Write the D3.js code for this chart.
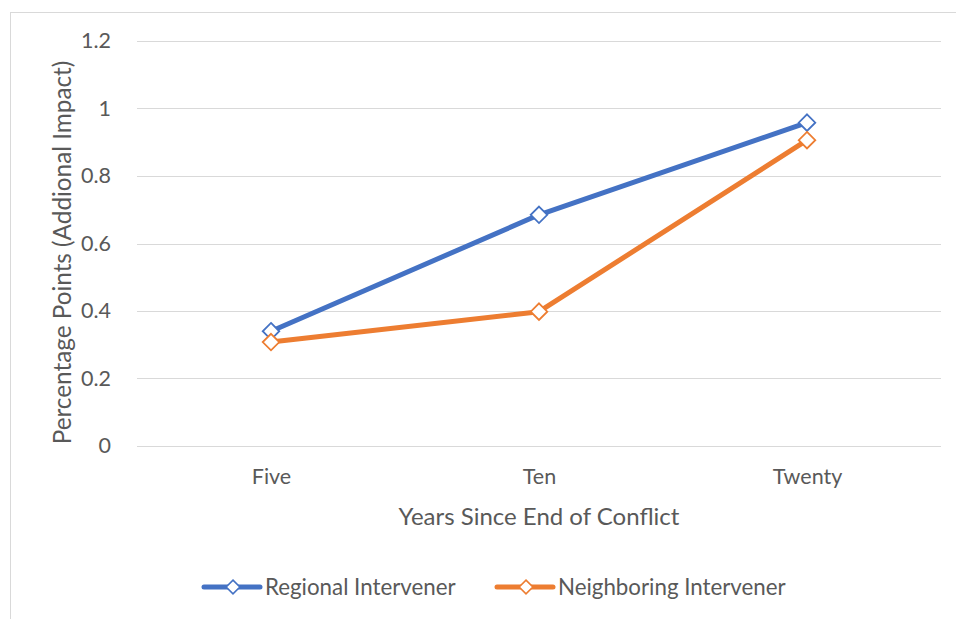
<!DOCTYPE html>
<html>
<head>
<meta charset="utf-8">
<script src="https://cdn.jsdelivr.net/npm/d3@7"></script>
<style>
  body { margin: 0; background: #fff; }
  text { font-family: Lato, "Open Sans", sans-serif; fill: #595959; }
</style>
</head>
<body>
<svg id="chart" width="956" height="619"></svg>
<script>
const categories = ["Five", "Ten", "Twenty"];
const regional = [0.34, 0.685, 0.958];
const neighboring = [0.308, 0.398, 0.906];
const yTicks = [0, 0.2, 0.4, 0.6, 0.8, 1, 1.2];
const seriesNames = ["Regional Intervener", "Neighboring Intervener"];
const seriesColors = ["#4472C4", "#ED7D31"];

const svg = d3.select("#chart");
const margin = { left: 137, right: 15, top: 41, bottom: 173 };
const width = +svg.attr("width");
const height = +svg.attr("height");

// chart frame (only top and left edges are visible in the crop)
svg.append("rect")
  .attr("x", 10.5).attr("y", 12.5)
  .attr("width", 960).attr("height", 620)
  .attr("fill", "none").attr("stroke", "#d9d9d9");

const x = d3.scalePoint(categories, [margin.left, width - margin.right]).padding(0.5);
const y = d3.scaleLinear([0, 1.2], [height - margin.bottom, margin.top]);

// gridlines
svg.append("g")
  .selectAll("line")
  .data(yTicks)
  .join("line")
  .attr("x1", margin.left).attr("x2", width - margin.right)
  .attr("y1", (d) => Math.round(y(d)) + 0.5).attr("y2", (d) => Math.round(y(d)) + 0.5)
  .attr("stroke", "#d9d9d9").attr("stroke-width", 1);

const yAxis = svg.append("g")
  .attr("transform", `translate(${margin.left - 23},0)`)
  .call(d3.axisLeft(y).tickValues(yTicks).tickSize(0).tickFormat((d) => String(d)));
yAxis.select(".domain").remove();
yAxis.selectAll("text").attr("font-size", 21.5).attr("fill", "#595959").attr("font-family", null);

const xAxis = svg.append("g")
  .attr("transform", `translate(0,${height - margin.bottom + 20})`)
  .call(d3.axisBottom(x).tickSize(0));
xAxis.select(".domain").remove();
xAxis.selectAll("text").attr("font-size", 21.5).attr("fill", "#595959").attr("font-family", null);

svg.append("text")
  .attr("transform", `translate(71,${(y(0) + y(1.2)) / 2 + 9}) rotate(-90)`)
  .attr("text-anchor", "middle")
  .attr("font-size", 24.3)
  .text("Percentage Points (Addional Impact)");

svg.append("text")
  .attr("x", (margin.left + width - margin.right) / 2)
  .attr("y", 525)
  .attr("text-anchor", "middle")
  .attr("font-size", 24)
  .text("Years Since End of Conflict");

const line = d3.line().x((d, i) => x(categories[i])).y((d) => y(d));
const diamond = d3.symbol().type(d3.symbolDiamond2).size(175);

[regional, neighboring].forEach((values, s) => {
  svg.append("path")
    .datum(values)
    .attr("d", line)
    .attr("fill", "none")
    .attr("stroke", seriesColors[s])
    .attr("stroke-width", 5)
    .attr("stroke-linejoin", "round")
    .attr("stroke-linecap", "round");
  svg.append("g")
    .selectAll("path")
    .data(values)
    .join("path")
    .attr("transform", (d, i) => `translate(${x(categories[i])},${y(d)})`)
    .attr("d", diamond)
    .attr("fill", "#fff")
    .attr("stroke", seriesColors[s])
    .attr("stroke-width", 1.8);
});

// legend
const legendX = [204, 497];
const legend = svg.append("g").selectAll("g")
  .data(seriesNames)
  .join("g")
  .attr("transform", (d, i) => `translate(${legendX[i]},587)`);
legend.append("line")
  .attr("x1", 0).attr("x2", 56)
  .attr("stroke", (d, i) => seriesColors[i])
  .attr("stroke-width", 5)
  .attr("stroke-linecap", "round");
legend.append("path")
  .attr("transform", "translate(29,0)")
  .attr("d", d3.symbol().type(d3.symbolDiamond2).size(120))
  .attr("fill", "#fff")
  .attr("stroke", (d, i) => seriesColors[i])
  .attr("stroke-width", 1.6);
legend.append("text")
  .attr("x", 61).attr("dy", "0.35em")
  .attr("font-size", 22.3)
  .text((d) => d);
</script>
</body>
</html>
